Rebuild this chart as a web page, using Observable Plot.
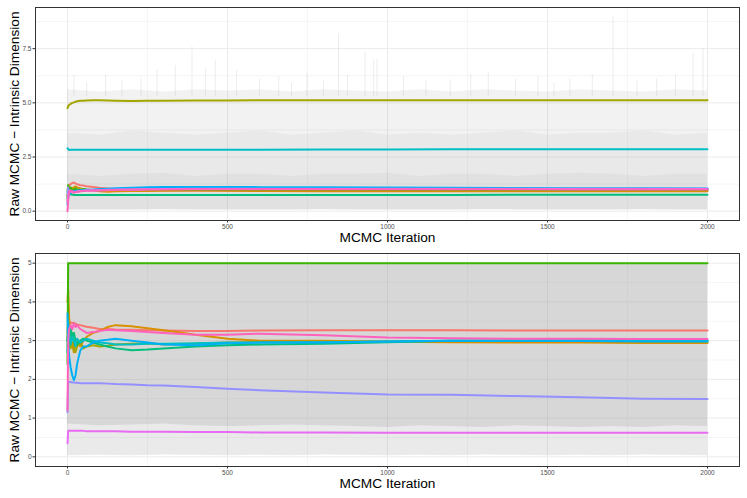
<!DOCTYPE html>
<html><head><meta charset="utf-8">
<script src="https://cdn.jsdelivr.net/npm/d3@7"></script>
<script src="https://cdn.jsdelivr.net/npm/@observablehq/plot@0.6"></script>
<style>
body{margin:0;background:#fff;font-family:"Liberation Sans",Arial,Helvetica,sans-serif}
#c svg{display:block}
</style>
</head><body><div id="c"></div>
<script>
// ---- categories / palette ----
const chains = ["c1","c2","c3","c4","c5","c6","c7","c8","c9","c10"];
const palette = ["#F8766D","#D89000","#A3A500","#39B600","#00BF7D","#00BFC4","#00B0F6","#9590FF","#E76BF3","#FF62BC"];

// ---- running-mean iterations ----
const iters = [0,2,5,10,15,20,25,30,40,50,60,80,100,125,150,200,250,300,400,500,600,800,1000,1200,1400,1600,1800,2000];

// ---- top panel running means ----
const top1  = [0.5,1.0,1.2,1.25,1.3,1.32,1.28,1.25,1.2,1.18,1.15,1.12,1.08,1.05,1.02,1.0,0.98,0.97,0.96,0.96,0.97,0.98,0.98,0.98,0.99,0.99,0.98,0.98];
const top2  = [0.7,0.9,1.1,1.0,1.05,1.1,1.15,1.1,1.05,1.0,0.98,0.95,0.92,0.9,0.92,0.93,0.93,0.94,0.95,0.94,0.93,0.92,0.92,0.92,0.92,0.92,0.92,0.92];
const top3  = [4.75,4.85,4.9,4.95,5.0,5.02,5.05,5.07,5.1,5.1,5.11,5.12,5.12,5.11,5.1,5.09,5.1,5.1,5.11,5.11,5.12,5.12,5.12,5.12,5.12,5.12,5.12,5.12];
const top4  = [0.9,1.2,1.0,1.1,0.95,1.0,1.05,1.0,0.98,1.02,1.0,0.98,0.97,0.98,0.99,1.0,1.0,1.01,1.0,1.0,1.0,1.0,1.0,1.0,1.0,1.0,1.0,1.0];
const top5  = [0.6,0.9,0.8,0.78,0.76,0.76,0.75,0.75,0.75,0.75,0.75,0.75,0.75,0.75,0.75,0.75,0.75,0.75,0.75,0.75,0.75,0.75,0.75,0.75,0.76,0.76,0.76,0.76];
const top6  = [2.9,2.88,2.82,2.84,2.83,2.84,2.84,2.84,2.84,2.84,2.84,2.83,2.83,2.83,2.83,2.83,2.83,2.83,2.84,2.84,2.84,2.85,2.85,2.86,2.86,2.86,2.86,2.86];
const top7  = [0.3,0.6,0.8,0.85,0.9,0.92,0.95,0.95,0.97,0.98,0.99,1.0,1.02,1.04,1.06,1.08,1.1,1.12,1.12,1.12,1.11,1.1,1.09,1.08,1.07,1.06,1.06,1.05];
const top8  = [0.8,1.1,0.9,0.95,0.9,0.88,0.9,0.92,0.93,0.95,0.96,0.97,0.98,0.99,1.0,1.0,1.01,1.02,1.03,1.04,1.04,1.04,1.04,1.04,1.04,1.03,1.03,1.03];
const top9  = [0.4,0.7,0.85,0.9,0.92,0.9,0.88,0.9,0.92,0.94,0.95,0.96,0.97,0.98,0.99,1.0,1.01,1.02,1.02,1.02,1.02,1.02,1.02,1.02,1.02,1.02,1.02,1.02];
const top10 = [0.0,0.5,0.9,0.95,0.88,0.85,0.88,0.9,0.92,0.93,0.94,0.95,0.96,0.97,0.98,0.99,1.0,1.0,1.01,1.01,1.01,1.01,1.01,1.01,1.01,1.0,1.0,1.0];

// ---- bottom panel running means ----
const bot1  = [3.2,3.5,3.45,3.47,3.45,3.46,3.44,3.42,3.4,3.38,3.36,3.33,3.3,3.3,3.29,3.28,3.27,3.26,3.25,3.25,3.26,3.27,3.27,3.27,3.26,3.26,3.26,3.26];
const bot2  = [4.0,4.33,3.6,3.1,2.9,2.7,2.9,3.0,2.85,3.0,3.1,3.2,3.25,3.35,3.4,3.37,3.32,3.27,3.15,3.05,3.0,3.0,2.97,2.96,2.95,2.95,2.94,2.94];
const bot3  = [3.0,3.3,2.9,2.8,3.2,2.75,2.7,2.85,2.95,2.8,2.85,2.88,2.85,2.87,2.9,2.92,2.93,2.9,2.92,2.95,2.97,2.97,2.98,2.99,3.0,3.0,2.98,2.97];
const bot4  = [2.4,5,5,5,5,5,5,5,5,5,5,5,5,5,5,5,5,5,5,5,5,5,5,5,5,5,5,5];
const bot5  = [3.0,3.2,3.0,3.3,3.1,3.2,3.0,2.9,3.0,3.05,3.0,2.95,2.9,2.85,2.8,2.75,2.77,2.8,2.85,2.88,2.9,2.92,2.96,3.0,3.0,3.0,3.02,3.0];
const bot6  = [2.7,3.5,3.2,2.9,3.1,3.0,2.85,3.05,2.95,3.0,3.05,3.0,2.95,2.93,2.9,2.9,2.92,2.92,2.93,2.95,2.95,2.96,2.98,3.0,3.0,3.01,3.0,3.0];
const bot7  = [3.7,3.0,2.6,2.3,2.1,1.98,2.1,2.4,2.75,2.85,2.85,2.95,3.0,3.02,3.05,3.0,2.95,2.9,2.88,2.93,2.95,2.95,2.98,3.0,3.0,2.99,2.98,2.98];
const bot8  = [1.15,1.93,1.93,1.93,1.92,1.92,1.91,1.91,1.9,1.9,1.9,1.9,1.9,1.89,1.88,1.87,1.85,1.84,1.8,1.76,1.72,1.66,1.61,1.6,1.57,1.54,1.5,1.49];
const bot9  = [0.35,0.66,0.68,0.67,0.67,0.67,0.67,0.67,0.67,0.67,0.66,0.66,0.66,0.66,0.66,0.65,0.65,0.65,0.64,0.64,0.63,0.63,0.62,0.62,0.62,0.62,0.62,0.62];
const bot10 = [1.2,3.0,3.3,3.4,3.3,3.45,3.35,3.4,3.3,3.25,3.2,3.22,3.25,3.28,3.27,3.25,3.22,3.2,3.15,3.15,3.18,3.14,3.08,3.06,3.05,3.05,3.04,3.04];

// ---- raw-trace envelopes (grey), every 100 iterations ----
const greyIt = [0,100,200,300,400,500,600,700,800,900,1000,1100,1200,1300,1400,1500,1600,1700,1800,1900,2000];
const topOuterHi = [5.6,5.5,5.6,5.5,5.6,5.55,5.6,5.5,5.6,5.55,5.5,5.6,5.5,5.6,5.55,5.5,5.6,5.55,5.5,5.6,5.55];
const topMidHi   = [3.6,3.5,3.7,3.6,3.5,3.6,3.7,3.5,3.6,3.7,3.5,3.6,3.5,3.6,3.7,3.5,3.6,3.6,3.7,3.5,3.6];
const topCoreHi  = [1.7,1.6,1.7,1.75,1.6,1.7,1.7,1.6,1.7,1.7,1.75,1.6,1.7,1.7,1.6,1.7,1.75,1.7,1.6,1.7,1.7];
const topLo      = [0.05,0.06,0.05,0.07,0.06,0.05,0.06,0.05,0.07,0.06,0.05,0.06,0.05,0.07,0.06,0.05,0.06,0.05,0.07,0.06,0.05];
const botDenseLo = [0.85,0.8,0.82,0.85,0.8,0.78,0.8,0.82,0.8,0.78,0.76,0.8,0.78,0.76,0.8,0.78,0.76,0.78,0.76,0.8,0.78];
const botLightLo = [0.03,0.04,0.03,0.05,0.04,0.03,0.04,0.03,0.05,0.04,0.03,0.04,0.03,0.05,0.04,0.03,0.04,0.03,0.05,0.04,0.03];
const botHi      = [5,5,5,5,5,5,5,5,5,5,5,5,5,5,5,5,5,5,5,5,5];

// ---- spikes in the top panel raw traces ----
const spikeIt = [20,60,119,170,230,280,337,389,431,462,528,600,660,700,748,800,847,875,930,957,967,1050,1120,1196,1260,1315,1400,1470,1520,1570,1640,1705,1780,1841,1900,1955,1986];
const spikeHi = [6.27,5.9,6.27,6.0,6.1,6.5,6.73,7.58,6.6,6.96,6.5,6.1,6.2,5.9,6.35,6.0,8.19,6.27,7.35,6.96,7.0,6.2,6.0,6.04,6.3,6.42,6.1,6.2,5.9,6.1,6.3,8.96,6.0,6.1,6.3,7.27,7.5];

// ---- tick labels ----
const xTicks = [0,500,1000,1500,2000];
const xMinor = [250,750,1250,1750];
const topYTicks = [0,2.5,5,7.5];
const topYMinor = [1.25,3.75,6.25,8.75];
const botYTicks = [0,1,2,3,4,5];
const botYMinor = [0.5,1.5,2.5,3.5,4.5];

const topSeries = [top1,top2,top3,top4,top5,top6,top7,top8,top9,top10];
const botSeries = [bot1,bot2,bot3,bot4,bot5,bot6,bot7,bot8,bot9,bot10];

function longData(series){
  const out = [];
  series.forEach((s,ci)=> s.forEach((v,i)=> out.push({it: iters[i], v, chain: chains[ci]})));
  return out;
}

function panel({series, yDomain, yTicks, yMinor, yFmt, greyLayers, spikes, marginTop, marginBottom, titleDy}){
  const marks = [
    Plot.gridX(xMinor, {stroke:"#ebebeb", strokeOpacity:1, strokeWidth:0.5}),
    Plot.gridY(yMinor, {stroke:"#ebebeb", strokeOpacity:1, strokeWidth:0.5}),
    Plot.gridX(xTicks, {stroke:"#ebebeb", strokeOpacity:1, strokeWidth:1}),
    Plot.gridY(yTicks, {stroke:"#ebebeb", strokeOpacity:1, strokeWidth:1}),
  ];
  if (spikes) {
    const sd = spikes.it.map((d,i)=>({it:d, hi:spikes.hi[i]}));
    marks.push(Plot.ruleX(sd, {x:"it", y1:5.3, y2:"hi", stroke:"#b4b4b4", strokeOpacity:0.35, strokeWidth:0.7}));
  }
  for (const g of greyLayers) {
    const gd = greyIt.map((d,i)=>({it:d, lo:g.lo[i], hi:g.hi[i]}));
    marks.push(Plot.areaY(gd, {x:"it", y1:"lo", y2:"hi", fill:"#a0a0a0", fillOpacity:g.op, curve:"linear"}));
  }
  marks.push(
    Plot.line(longData(series), {x:"it", y:"v", z:"chain", stroke:"chain", strokeWidth:2, curve:"linear"}),
    Plot.frame({stroke:"#333333", strokeWidth:1}),
    Plot.axisX(xTicks, {anchor:"bottom", tickSize:2.5, tickPadding:1.5, fontSize:6.5, stroke:"#333333", fill:"#4d4d4d", label:null, tickFormat:d=>String(d)}),
    Plot.axisY(yTicks, {anchor:"left", tickSize:2.5, tickPadding:1.5, fontSize:6.5, stroke:"#333333", fill:"#4d4d4d", label:null, tickFormat:yFmt}),
    Plot.text(["MCMC Iteration"], {frameAnchor:"bottom", dy:titleDy, lineAnchor:"middle", textAnchor:"middle", fontSize:13.7, fill:"#000"}),
    Plot.text(["Raw MCMC \u2212 Intrinsic Dimension"], {frameAnchor:"left", dx:-21, rotate:-90, lineAnchor:"middle", textAnchor:"middle", fontSize:13.7, fill:"#000"})
  );
  return Plot.plot({
    width:747, height:249,
    marginLeft:35, marginRight:8, marginTop, marginBottom,
    style:{fontFamily:'"Liberation Sans",Arial,Helvetica,sans-serif', background:"#fff"},
    x:{domain:[-100,2100], axis:null},
    y:{domain:yDomain, axis:null},
    color:{domain:chains, range:palette},
    marks
  });
}

const c = document.getElementById("c");
c.appendChild(panel({
  series: topSeries, yDomain:[-0.43,9.4], yTicks:topYTicks, yMinor:topYMinor, yFmt:d=>d.toFixed(1),
  greyLayers:[
    {lo:topLo, hi:topOuterHi, op:0.14},
    {lo:topLo, hi:topMidHi, op:0.10},
    {lo:topLo, hi:topCoreHi, op:0.10}
  ],
  spikes:{it:spikeIt, hi:spikeHi},
  marginTop:7, marginBottom:29, titleDy:17
}));
c.appendChild(panel({
  series: botSeries, yDomain:[-0.25,5.25], yTicks:botYTicks, yMinor:botYMinor, yFmt:d=>String(d),
  greyLayers:[
    {lo:botLightLo, hi:botHi, op:0.22},
    {lo:botDenseLo, hi:botHi, op:0.25}
  ],
  spikes:null,
  marginTop:4, marginBottom:32, titleDy:17
}));
</script></body></html>
